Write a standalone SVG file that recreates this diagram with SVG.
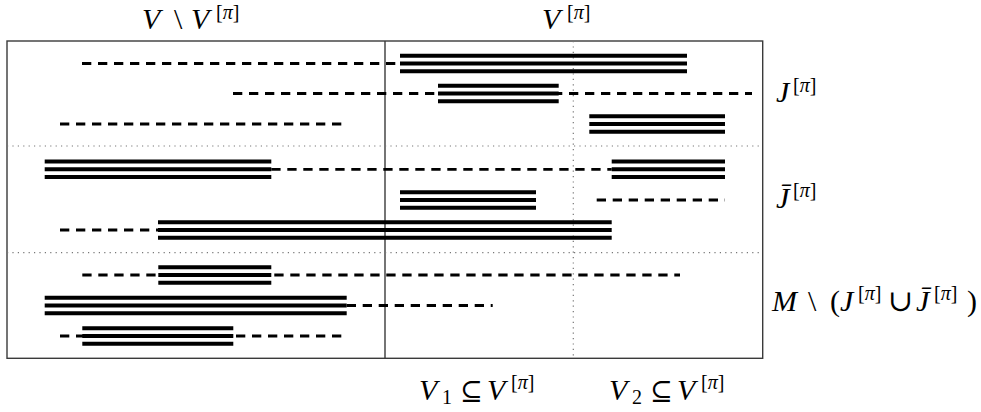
<svg xmlns="http://www.w3.org/2000/svg" width="981" height="412" viewBox="0 0 981 412">
  <style>
    .frame { fill: none; stroke: #3a3a3a; stroke-width: 1.4; }
    .divider { stroke: #3a3a3a; stroke-width: 1.4; }
    .dots { stroke: #777; stroke-width: 1.2; stroke-dasharray: 1.2 4.2; fill: none; }
    .dash { stroke: #000; stroke-width: 2.8; stroke-dasharray: 9.3 6.7; fill: none; }
    .bar { stroke: #000; stroke-width: 4; fill: none; }
    text { font-family: "Liberation Serif", "DejaVu Serif", serif; font-size: 30px; fill: #000; }
    .it { font-style: italic; }
    .sm { font-size: 20px; }
    .rel { font-size: 27px; }
  </style>

  <!-- frame and partitions -->
  <g id="frame">
    <rect class="frame" x="7" y="41" width="755.7" height="317.3"/>
    <line class="divider" x1="385" y1="41" x2="385" y2="358.3"/>
    <line class="dots" x1="573.3" y1="41" x2="573.3" y2="358.3"/>
    <line class="dots" x1="7" y1="146" x2="762.7" y2="146"/>
    <line class="dots" x1="7" y1="252.7" x2="762.7" y2="252.7"/>
  </g>

  <!-- intervals: dashed span with triple-bar segment -->
  <g id="intervals">
    <g id="row1">
      <line class="dash" x1="82" y1="63.5" x2="400" y2="63.5"/>
      <path class="bar" d="M400 55.8H687M400 63.5H687M400 71.2H687"/>
    </g>
    <g id="row2">
      <line class="dash" x1="233" y1="93.5" x2="752" y2="93.5"/>
      <path class="bar" d="M438 85.8H558.7M438 93.5H558.7M438 101.2H558.7"/>
    </g>
    <g id="row3">
      <line class="dash" x1="60" y1="124" x2="346.7" y2="124"/>
      <path class="bar" d="M589.3 116.3H725M589.3 124H725M589.3 131.7H725"/>
    </g>
    <g id="row4">
      <line class="dash" x1="271.3" y1="169.3" x2="611.7" y2="169.3"/>
      <path class="bar" d="M44.7 161.6H271.3M44.7 169.3H271.3M44.7 177H271.3"/>
      <path class="bar" d="M611.7 161.6H725M611.7 169.3H725M611.7 177H725"/>
    </g>
    <g id="row5">
      <line class="dash" x1="596.7" y1="200" x2="725" y2="200"/>
      <path class="bar" d="M400 192.3H536M400 200H536M400 207.7H536"/>
    </g>
    <g id="row6">
      <line class="dash" x1="60" y1="230" x2="158" y2="230"/>
      <path class="bar" d="M158 222.3H611.7M158 230H611.7M158 237.7H611.7"/>
    </g>
    <g id="row7">
      <line class="dash" x1="82.3" y1="275" x2="680" y2="275"/>
      <path class="bar" d="M158.3 267.3H271.3M158.3 275H271.3M158.3 282.7H271.3"/>
    </g>
    <g id="row8">
      <line class="dash" x1="346.7" y1="305.5" x2="492.7" y2="305.5"/>
      <path class="bar" d="M44.7 297.8H346.7M44.7 305.5H346.7M44.7 313.2H346.7"/>
    </g>
    <g id="row9">
      <line class="dash" x1="60" y1="336" x2="346.7" y2="336"/>
      <path class="bar" d="M82.3 328.3H233.3M82.3 336H233.3M82.3 343.7H233.3"/>
    </g>
  </g>

  <!-- column labels -->
  <g id="label-outside">
    <text y="28.5"><tspan x="142" class="it">V</tspan><tspan x="174">\</tspan><tspan x="191" class="it">V</tspan><tspan class="sm" x="216" y="18.5">[<tspan class="it">π</tspan>]</tspan></text>
  </g>
  <g id="label-inside">
    <text y="28.5"><tspan x="542" class="it">V</tspan><tspan class="sm" x="567" y="18.5">[<tspan class="it">π</tspan>]</tspan></text>
  </g>
  <g id="label-v1">
    <text y="399.5"><tspan x="419" class="it">V</tspan><tspan class="sm" x="442" y="404">1</tspan><tspan class="rel" x="460" y="399.5">⊆</tspan><tspan x="487" class="it">V</tspan><tspan class="sm" x="511" y="389">[<tspan class="it">π</tspan>]</tspan></text>
  </g>
  <g id="label-v2">
    <text y="399.5"><tspan x="609" class="it">V</tspan><tspan class="sm" x="632" y="404">2</tspan><tspan class="rel" x="650" y="399.5">⊆</tspan><tspan x="677" class="it">V</tspan><tspan class="sm" x="701" y="389">[<tspan class="it">π</tspan>]</tspan></text>
  </g>

  <!-- row group labels -->
  <g id="label-j">
    <text y="102"><tspan x="776" class="it">J</tspan><tspan class="sm" x="793" y="91.5">[<tspan class="it">π</tspan>]</tspan></text>
  </g>
  <g id="label-jbar">
    <text y="207.5"><tspan x="776" class="it">J̄</tspan><tspan class="sm" x="793" y="197">[<tspan class="it">π</tspan>]</tspan></text>
  </g>
  <g id="label-rest">
    <text y="310.5"><tspan x="772" class="it">M</tspan><tspan x="808">\</tspan><tspan x="830">(</tspan><tspan x="840" class="it">J</tspan><tspan class="sm" x="858" y="300">[<tspan class="it">π</tspan>]</tspan><tspan x="888" y="310.5">∪</tspan><tspan x="916" class="it">J̄</tspan><tspan class="sm" x="934" y="300">[<tspan class="it">π</tspan>]</tspan><tspan x="967" y="310.5">)</tspan></text>
  </g>
</svg>
